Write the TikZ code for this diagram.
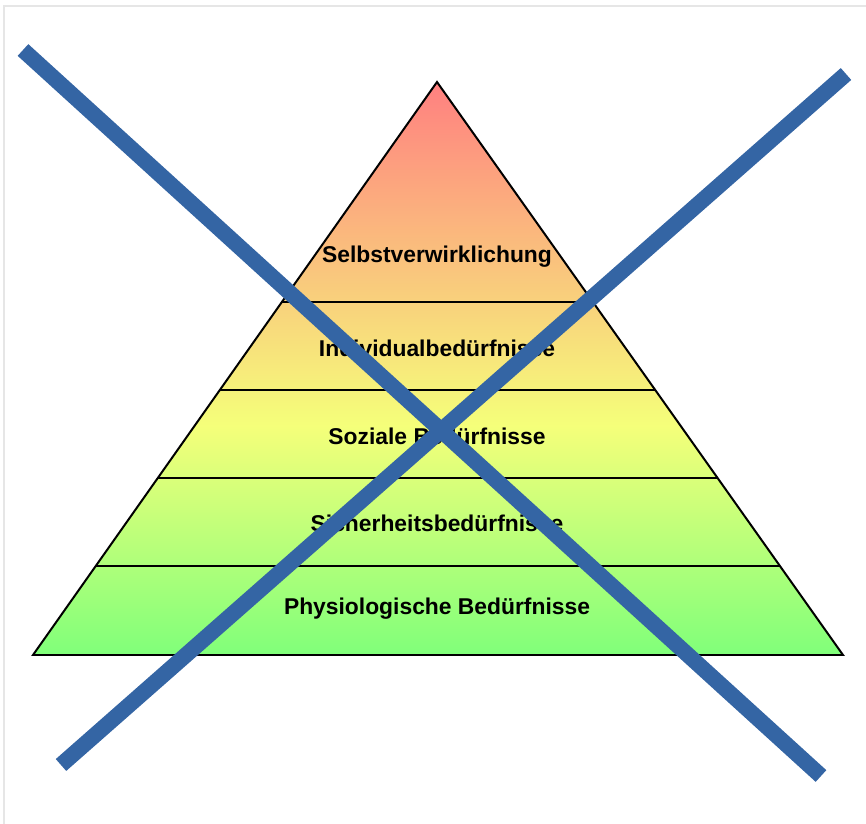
\documentclass[tikz,border=0pt]{standalone}
\usepackage{fontspec}
\setmainfont{Liberation Sans}
\usepackage{xcolor}
\usetikzlibrary{calc}

\definecolor{apexred}{HTML}{FF8080}
\definecolor{midyellow}{HTML}{F5FF7A}
\definecolor{basegreen}{HTML}{80FF7A}
\definecolor{crossblue}{HTML}{3465A4}
\definecolor{framegray}{HTML}{E6E6E6}

\pgfdeclareverticalshading{pyramidshade}{100bp}{%
  color(0bp)=(basegreen); color(25bp)=(basegreen);
  color(45bp)=(midyellow);
  color(75bp)=(apexred); color(100bp)=(apexred)}

\tikzset{
  level/.style={font=\fontsize{19.5}{22}\selectfont\bfseries, text=black, inner sep=0pt},
  divider/.style={black, line width=1.7pt},
  cross/.style={crossblue, line width=13.5pt, line cap=butt}
}

\begin{document}
\begin{tikzpicture}[x=0.03cm, y=-0.03cm]
\useasboundingbox (0,0) rectangle (866,824);
% Frame
\draw[framegray, line width=1pt] (4,824) -- (4,6) -- (866,6);

% Pyramid
\coordinate (apex) at (437,82);
\coordinate (bl) at (33,655);
\coordinate (br) at (843,655);
\shade[shading=pyramidshade] (apex) -- (bl) -- (br) -- cycle;
\foreach \y in {302,390,478,566}
  \draw[divider] ($(apex)!{(\y-82)/573}!(bl)$) -- ($(apex)!{(\y-82)/573}!(br)$);
\draw[black, line width=1.7pt, line join=miter] (apex) -- (bl) -- (br) -- cycle;

% Labels
\node[level] (selbst) at (437,257) {Selbstverwirklichung};
\node[level] (indiv) at (437,348) {Individualbedürfnisse};
\node[level] (sozial) at (437,436) {Soziale Bedürfnisse};
\node[level] (sicher) at (437,523) {Sicherheitsbedürfnisse};
\node[level] (physio) at (437,609) {Physiologische Bedürfnisse};

% Cross
\draw[cross] (23,50) -- (821,776);
\draw[cross] (846,74) -- (61,765);
\end{tikzpicture}
\end{document}
